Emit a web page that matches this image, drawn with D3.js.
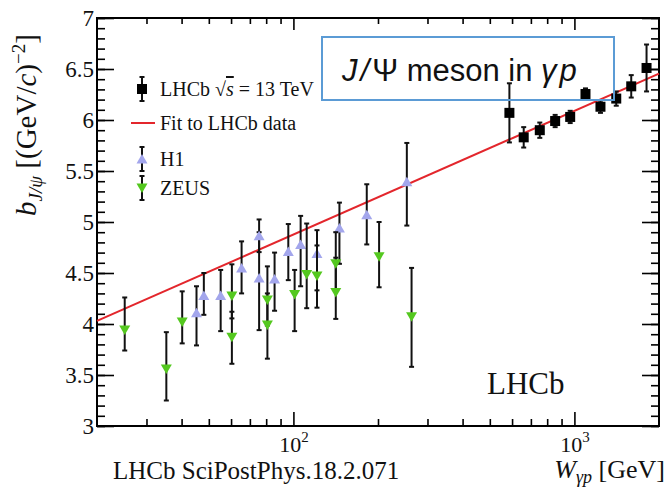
<!DOCTYPE html>
<html>
<head>
<meta charset="utf-8">
<script src="https://cdn.jsdelivr.net/npm/d3@7"></script>
<style>
  body { margin: 0; background: #fff; }
  svg { display: block; }
</style>
</head>
<body>
<script>
// ---------- data ----------
const lhcbW   = [587, 660, 753, 854, 966, 1095, 1238, 1409, 1593, 1806];
const lhcbB   = [6.07, 5.83, 5.90, 5.99, 6.03, 6.255, 6.13, 6.21, 6.33, 6.51];
const lhcbErr = [0.29, 0.10, 0.075, 0.06, 0.06, 0.055, 0.06, 0.07, 0.11, 0.23];

const h1W     = [45.2, 48.0, 55.1, 65.4, 75.5, 75.5, 85.7, 95.9, 106.1, 121.3, 145.8, 182.4, 253.3];
const h1B     = [4.11, 4.28, 4.28, 4.55, 4.865, 4.45, 4.44, 4.71, 4.78, 4.69, 4.94, 5.07, 5.395];
const h1ErrLo = [0.32, 0.19, 0.35, 0.25, 0.16, 0.51, 0.31, 0.28, 0.41, 0.36, 0.35, 0.29, 0.43];
const h1ErrHi = [0.26, 0.22, 0.25, 0.26, 0.16, 0.45, 0.26, 0.27, 0.28, 0.23, 0.25, 0.30, 0.38];

const zeusW     = [25.1, 35.3, 40.2, 60.4, 60.4, 80.8, 80.8, 101, 111.5, 121.3, 141.5, 141.5, 201.8, 263.3];
const zeusB     = [3.94, 3.56, 4.02, 4.275, 3.87, 4.235, 3.99, 4.29, 4.485, 4.47, 4.59, 4.31, 4.66, 4.07];
const zeusErrLo = [0.20, 0.31, 0.21, 0.22, 0.26, 0.25, 0.33, 0.36, 0.33, 0.31, 0.25, 0.26, 0.30, 0.49];
const zeusErrHi = [0.32, 0.36, 0.30, 0.31, 0.25, 0.33, 0.31, 0.24, 0.50, 0.30, 0.31, 0.34, 0.34, 0.48];

const fitW = [20, 2000];
const fitB = [4.03, 6.455];

const yMajor = [3, 3.5, 4, 4.5, 5, 5.5, 6, 6.5, 7];
const yMinor = d3.range(30, 71).map(v => v / 10);
const xMajor = [100, 1000];
const xMinor = [30, 40, 50, 60, 70, 80, 90, 200, 300, 400, 500, 600, 700, 800, 900];
const xMajorExp = ["2", "3"];

// ---------- setup ----------
const W = 669, H = 493;
const L = 97, R = 659, T = 18, B = 426;
const svg = d3.select("body").append("svg").attr("width", W).attr("height", H);

const x = d3.scaleLog().domain([20, 2000]).range([L, R]);
const y = d3.scaleLinear().domain([3, 7]).range([B, T]);

const serif = "'Liberation Serif', 'Times New Roman', serif";

function styleAxis(g) {
  g.select(".domain").remove();
  g.selectAll(".tick line").attr("stroke", "#000").attr("stroke-width", 1.6);
  g.attr("font-family", serif);
}

// left axis
svg.append("g").attr("transform", `translate(${L},0)`)
  .call(d3.axisLeft(y).tickValues(yMinor).tickSize(-8).tickSizeOuter(0).tickFormat(""))
  .call(styleAxis);
svg.append("g").attr("transform", `translate(${L},0)`)
  .call(d3.axisLeft(y).tickValues(yMajor).tickSize(-17).tickSizeOuter(0).tickPadding(3).tickFormat(d3.format("")))
  .call(styleAxis)
  .call(g => g.selectAll("text").attr("font-size", 23).attr("fill", "#111").attr("dy", "0.34em"));
// right axis
svg.append("g").attr("transform", `translate(${R},0)`)
  .call(d3.axisRight(y).tickValues(yMinor).tickSize(-8).tickSizeOuter(0).tickFormat(""))
  .call(styleAxis);
svg.append("g").attr("transform", `translate(${R},0)`)
  .call(d3.axisRight(y).tickValues(yMajor).tickSize(-17).tickSizeOuter(0).tickFormat(""))
  .call(styleAxis);
// bottom axis
svg.append("g").attr("transform", `translate(0,${B})`)
  .call(d3.axisBottom(x).tickValues(xMinor).tickSize(-7).tickSizeOuter(0).tickFormat(""))
  .call(styleAxis);
const xb = svg.append("g").attr("transform", `translate(0,${B})`)
  .call(d3.axisBottom(x).tickValues(xMajor).tickSize(-14).tickSizeOuter(0).tickFormat(""))
  .call(styleAxis);
xb.selectAll(".tick").each(function(d, i) {
  const t = d3.select(this).select("text")
    .attr("y", 26).attr("dy", 0).attr("font-size", 22).attr("fill", "#111")
    .attr("text-anchor", "middle");
  t.text("");
  t.append("tspan").text("10");
  t.append("tspan").attr("font-size", 15).attr("dy", -10).text(xMajorExp[i]);
});
// top axis
svg.append("g").attr("transform", `translate(0,${T})`)
  .call(d3.axisTop(x).tickValues(xMinor).tickSize(-6).tickSizeOuter(0).tickFormat(""))
  .call(styleAxis);
svg.append("g").attr("transform", `translate(0,${T})`)
  .call(d3.axisTop(x).tickValues(xMajor).tickSize(-12).tickSizeOuter(0).tickFormat(""))
  .call(styleAxis);

// frame
svg.append("rect").attr("x", L).attr("y", T).attr("width", R - L).attr("height", B - T)
  .attr("fill", "none").attr("stroke", "#000").attr("stroke-width", 2);

// ---------- marks ----------
const plot = svg.append("g");

// fit line
plot.append("path")
  .datum(fitW.map((w, i) => [w, fitB[i]]))
  .attr("d", d3.line().x(d => x(d[0])).y(d => y(d[1])))
  .attr("stroke", "#e3262c").attr("stroke-width", 2).attr("fill", "none");

function errBars(g, ws, bs, lo, hi) {
  const data = ws.map((w, i) => ({ w, b: bs[i], lo: lo[i], hi: hi[i] }));
  const eb = g.append("g").attr("stroke", "#111").attr("stroke-width", 2);
  eb.selectAll(".v").data(data).join("line")
    .attr("x1", d => x(d.w)).attr("x2", d => x(d.w))
    .attr("y1", d => y(d.b - d.lo)).attr("y2", d => y(d.b + d.hi));
  eb.selectAll(".c1").data(data).join("line")
    .attr("x1", d => x(d.w) - 2.5).attr("x2", d => x(d.w) + 2.5)
    .attr("y1", d => y(d.b - d.lo)).attr("y2", d => y(d.b - d.lo));
  eb.selectAll(".c2").data(data).join("line")
    .attr("x1", d => x(d.w) - 2.5).attr("x2", d => x(d.w) + 2.5)
    .attr("y1", d => y(d.b + d.hi)).attr("y2", d => y(d.b + d.hi));
  return data;
}

function triPath(up) {
  return up ? "M0,-5L5.5,4.5L-5.5,4.5Z" : "M0,5L5.5,-4.5L-5.5,-4.5Z";
}

// H1
const h1Data = errBars(plot, h1W, h1B, h1ErrLo, h1ErrHi);
plot.selectAll(".h1").data(h1Data).join("path")
  .attr("d", triPath(true))
  .attr("transform", d => `translate(${x(d.w)},${y(d.b)})`)
  .attr("fill", "#a3a6ec");

// ZEUS
const zData = errBars(plot, zeusW, zeusB, zeusErrLo, zeusErrHi);
plot.selectAll(".zeus").data(zData).join("path")
  .attr("d", triPath(false))
  .attr("transform", d => `translate(${x(d.w)},${y(d.b)})`)
  .attr("fill", "#54c81f");

// LHCb
const lData = errBars(plot, lhcbW, lhcbB, lhcbErr, lhcbErr);
plot.selectAll(".lhcb").data(lData).join("rect")
  .attr("x", d => x(d.w) - 5).attr("y", d => y(d.b) - 5)
  .attr("width", 10).attr("height", 10).attr("fill", "#000");

// ---------- legend ----------
const leg = svg.append("g").attr("font-family", serif).attr("font-size", 20).attr("fill", "#111");
const lx = 142, tx = 160;
function legErr(yy) {
  const g = leg.append("g").attr("stroke", "#111").attr("stroke-width", 2);
  g.append("line").attr("x1", lx).attr("x2", lx).attr("y1", yy - 12).attr("y2", yy + 12);
  g.append("line").attr("x1", lx - 2.5).attr("x2", lx + 2.5).attr("y1", yy - 12).attr("y2", yy - 12);
  g.append("line").attr("x1", lx - 2.5).attr("x2", lx + 2.5).attr("y1", yy + 12).attr("y2", yy + 12);
}
// LHCb
legErr(89);
leg.append("rect").attr("x", lx - 5).attr("y", 84).attr("width", 10).attr("height", 10).attr("fill", "#000");
const t1 = leg.append("text").attr("x", tx).attr("y", 96);
t1.append("tspan").text("LHCb ");
t1.append("tspan").text("\u221A");
t1.append("tspan").attr("font-style", "italic").style("text-decoration", "overline").text("s");
t1.append("tspan").text(" = 13 TeV");
// fit
leg.append("line").attr("x1", 131).attr("x2", 155).attr("y1", 123).attr("y2", 123)
  .attr("stroke", "#e3262c").attr("stroke-width", 2);
leg.append("text").attr("x", tx).attr("y", 130).text("Fit to LHCb data");
// H1
legErr(159);
leg.append("path").attr("d", triPath(true)).attr("transform", `translate(${lx},159)`).attr("fill", "#a3a6ec");
leg.append("text").attr("x", tx).attr("y", 166).text("H1");
// ZEUS
legErr(188);
leg.append("path").attr("d", triPath(false)).attr("transform", `translate(${lx},188)`).attr("fill", "#54c81f");
leg.append("text").attr("x", tx).attr("y", 195).text("ZEUS");

// ---------- annotations ----------
svg.append("rect").attr("x", 322).attr("y", 37).attr("width", 292).attr("height", 63)
  .attr("fill", "none").attr("stroke", "#5b9bd5").attr("stroke-width", 2);
const ann = svg.append("text").attr("x", 342).attr("y", 81)
  .attr("font-family", "'Liberation Sans', Arial, sans-serif").attr("font-size", 31).attr("fill", "#111");
ann.append("tspan").attr("font-style", "italic").attr("letter-spacing", 3).text("J/");
ann.append("tspan").text("\u03A8 meson in ");
ann.append("tspan").attr("font-style", "italic").attr("letter-spacing", 3).text("\u03B3p");

svg.append("text").attr("x", 487).attr("y", 394)
  .attr("font-family", serif).attr("font-size", 31).attr("fill", "#111").text("LHCb");

svg.append("text").attr("x", 113).attr("y", 479)
  .attr("font-family", serif).attr("font-size", 25).attr("fill", "#111")
  .text("LHCb SciPostPhys.18.2.071");

const xl = svg.append("text").attr("x", 665).attr("y", 478).attr("text-anchor", "end")
  .attr("font-family", serif).attr("font-size", 26).attr("fill", "#111");
xl.append("tspan").attr("font-style", "italic").text("W");
xl.append("tspan").attr("font-style", "italic").attr("font-size", 18).attr("dy", 5).text("\u03B3p");
xl.append("tspan").attr("dy", -5).text(" [GeV]");

// y label
const yl = svg.append("text").attr("transform", "translate(36,125) rotate(-90)")
  .attr("text-anchor", "middle").attr("font-family", serif).attr("font-size", 29).attr("fill", "#111");
yl.append("tspan").attr("font-style", "italic").text("b");
yl.append("tspan").attr("font-style", "italic").attr("font-size", 19).attr("dy", 6).text("J/\u03C8");
yl.append("tspan").attr("dy", -6).text(" [(GeV/");
yl.append("tspan").attr("font-style", "italic").text("c");
yl.append("tspan").text(")");
yl.append("tspan").attr("font-size", 19).attr("dy", -11).text("\u22122");
yl.append("tspan").attr("dy", 11).text("]");
</script>
</body>
</html>
